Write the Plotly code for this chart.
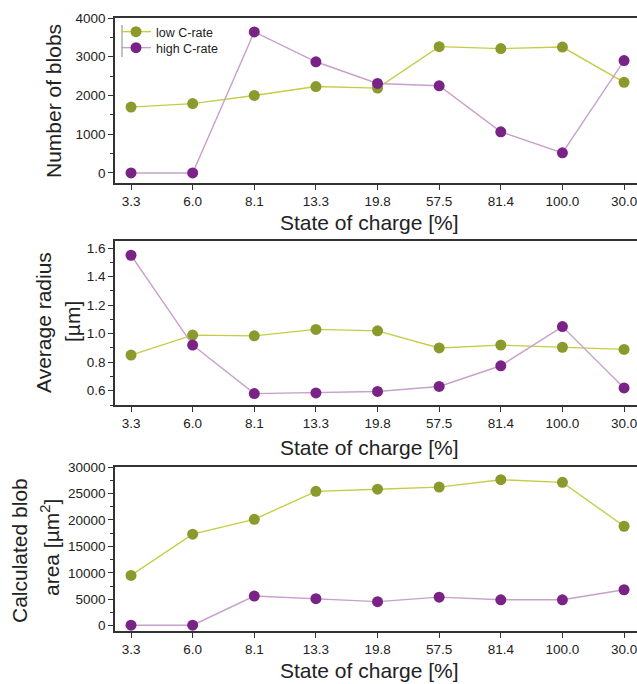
import plotly.graph_objects as go

soc_labels = ["3.3", "6.0", "8.1", "13.3", "19.8", "57.5", "81.4", "100.0", "30.0"]

blobs_low = [1700, 1790, 2000, 2230, 2190, 3260, 3210, 3250, 2340]
blobs_high = [0, 0, 3640, 2870, 2310, 2250, 1060, 520, 2900]

radius_low = [0.85, 0.99, 0.985, 1.03, 1.02, 0.90, 0.92, 0.905, 0.89]
radius_high = [1.55, 0.92, 0.58, 0.585, 0.595, 0.63, 0.775, 1.05, 0.62]

area_low = [9500, 17300, 20100, 25400, 25800, 26200, 27600, 27100, 18800]
area_high = [100, 100, 5600, 5100, 4550, 5400, 4900, 4900, 6800]

# figure slightly wider than the 637px window so the plot area runs off the right edge
W, H = 643, 684
LOW_MK, LOW_LN = "#8a9a2c", "#c6cd45"
HIGH_MK, HIGH_LN = "#7a2387", "#c8a0cb"
FONT = "Liberation Sans, Arial, sans-serif"


def px(x):
    return x / W


def py(y):
    return 1 - y / H


x_idx = list(range(len(soc_labels)))
x_range = [-0.26, 8.21 + 6 / 61.63]

fig = go.Figure()

panels = [
    ("", blobs_low, blobs_high, [-260, 4000], 1000, 500, "d", (18, 183)),
    ("2", radius_low, radius_high, [0.5, 1.65], 0.2, 0.1, ".1f", (241, 405)),
    ("3", area_low, area_high, [-1000, 30000], 5000, 2500, "d", (467, 631)),
]

for i, (sfx, lo, hi, yr, dt, mdt, fmt, (ytop, ybot)) in enumerate(panels):
    xa = "x" + sfx
    ya = "y" + sfx
    fig.add_trace(go.Scatter(x=x_idx, y=lo, mode="lines+markers", name="low C-rate",
                             line=dict(color=LOW_LN, width=1.4),
                             marker=dict(color=LOW_MK, size=11),
                             xaxis=xa, yaxis=ya, showlegend=(i == 0), legend="legend"))
    fig.add_trace(go.Scatter(x=x_idx, y=hi, mode="lines+markers", name="high C-rate",
                             line=dict(color=HIGH_LN, width=1.4),
                             marker=dict(color=HIGH_MK, size=11),
                             xaxis=xa, yaxis=ya, showlegend=(i == 0), legend="legend2"))
    dom_y = [py(ybot), py(ytop)]
    xkey = "xaxis" + sfx
    ykey = "yaxis" + sfx
    fig.update_layout(**{
        xkey: dict(domain=[px(115), 1.0], range=x_range, anchor=ya,
                   tickmode="array", tickvals=x_idx, ticktext=soc_labels,
                   showline=True, linecolor="#333", linewidth=1.5, mirror=True,
                   ticks="outside", ticklen=5, tickcolor="#333",
                   showgrid=False, zeroline=False, automargin=False,
                   ticklabeloverflow="allow",
                   tickfont=dict(size=13.5, color="#222", family=FONT)),
        ykey: dict(domain=dom_y, range=yr, anchor=xa, dtick=dt,
                   tick0=0, tickformat=fmt, mirror=False,
                   showline=True, linecolor="#333", linewidth=1.5,
                   ticks="outside", ticklen=5, tickcolor="#333",
                   minor=dict(ticks="outside", ticklen=3, dtick=mdt, tick0=0, tickcolor="#333"),
                   showgrid=False, zeroline=False, automargin=False,
                   tickfont=dict(size=13.5, color="#222", family=FONT)),
    })

annots = []
xt_centers = [222, 447, 670]
for yc in xt_centers:
    annots.append(dict(text="State of charge [%]", x=px(369), y=py(yc),
                       xref="paper", yref="paper", showarrow=False,
                       xanchor="center", yanchor="middle",
                       font=dict(size=21, color="#222", family=FONT)))

ytitles = [("Number of blobs", 54, 101),
           ("Average radius", 43, 323),
           ("[µm]", 72, 322),
           ("Calculated blob", 19, 551),
           ("area [µm<sup>2</sup>]", 50, 548)]
for txt, xc, yc in ytitles:
    annots.append(dict(text=txt, x=px(xc), y=py(yc), xref="paper", yref="paper",
                       showarrow=False, textangle=-90, xanchor="center", yanchor="middle",
                       font=dict(size=21, color="#222", family=FONT)))

leg_common = dict(xanchor="left", yanchor="middle", bgcolor="rgba(0,0,0,0)",
                  font=dict(size=12.5, color="#222", family=FONT), itemwidth=30)

fig.update_layout(
    width=W, height=H,
    margin=dict(l=0, r=0, t=0, b=0),
    paper_bgcolor="white", plot_bgcolor="white",
    annotations=annots,
    legend=dict(x=px(116), y=py(32), **leg_common),
    legend2=dict(x=px(116), y=py(48), **leg_common),
    shapes=[dict(type="line", xref="paper", yref="paper",
                 x0=px(122), x1=px(122), y0=py(25), y1=py(57),
                 line=dict(color="#888", width=1))],
)

fig.write_html("out.html", config={"displayModeBar": False},
               post_script="document.body.style.margin='0';document.body.style.overflow='hidden';")
